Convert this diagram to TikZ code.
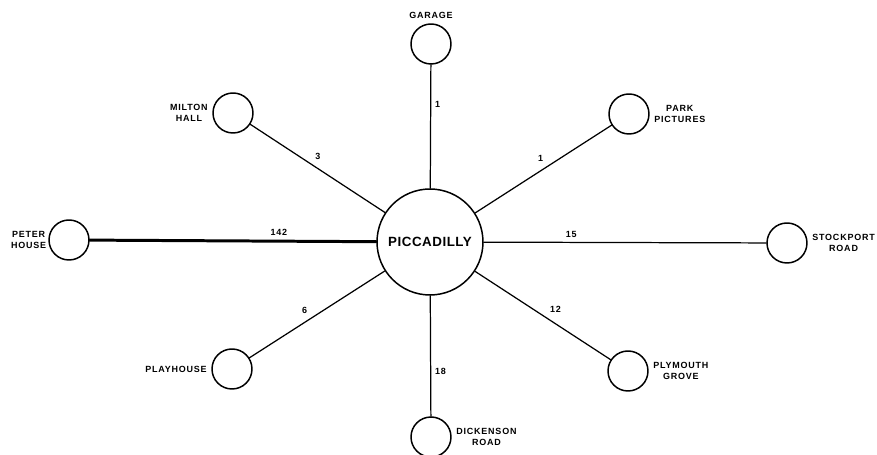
\documentclass[tikz,border=0pt]{standalone}
\usepackage{fontspec}
\usepackage{tikz}
\newfontfamily\mapfont[LetterSpace=4]{Liberation Sans}
\newfontfamily\stopfont[LetterSpace=9]{Liberation Sans}

\tikzset{
  hub/.style={circle,draw,line width=0.85pt,minimum size=2.12cm,inner sep=0pt,
    font=\mapfont\bfseries\fontsize{7.6}{9}\selectfont},
  stop/.style={circle,draw,line width=0.85pt,minimum size=0.8cm,inner sep=0pt},
  lbl/.style={align=center,inner sep=2.4pt,
    font=\stopfont\bfseries\fontsize{5.1}{6.2}\selectfont},
  num/.style={inner sep=2.2pt,font=\stopfont\bfseries\fontsize{5.1}{6.2}\selectfont},
  road/.style={line width=0.7pt},
}

\begin{document}
\begin{tikzpicture}[line cap=round,line join=round,x=0.02cm,y=-0.02cm]
			\useasboundingbox (0,0) rectangle (877,455);
			\node[hub] (picc) at (430,242) {PICCADILLY};
			\node[stop,label={[lbl]above:GARAGE}] (garage) at (431,44) {};
			\node[stop,label={[lbl]left:MILTON\\HALL}] (milton) at (233,113) {};
			\node[stop,label={[lbl]right:PARK\\PICTURES}] (park) at (629,114) {};
			\node[stop,label={[lbl,inner sep=1pt]left:PETER\\HOUSE}] (peter) at (69,240) {};
			\node[stop,label={[lbl]right:STOCKPORT\\ROAD}] (stockport) at (787,243) {};
			\node[stop,label={[lbl]left:PLAYHOUSE}] (playhouse) at (232,369) {};
			\node[stop,label={[lbl]right:DICKENSON\\ROAD}] (dickenson) at (431,437) {};
			\node[stop,label={[lbl]right:PLYMOUTH\\GROVE}] (plymouth) at (628,371) {};
			\draw [road] (picc) -- node[num,pos=0.68,right] {1} (garage);
			\draw [road] (picc) -- node[num,pos=0.55,above right] {3} (milton);
			\draw [road] (picc) -- node[num,pos=0.53,above left] {1} (park);
			\draw [line width=1.7pt] (picc) -- node[num,pos=0.34,above] {142} (peter);
			\draw [road] (picc) -- node[num,pos=0.31,above] {15} (stockport);
			\draw [road] (picc) -- node[num,pos=0.54,above left] {6} (playhouse);
			\draw [road] (picc) -- node[num,pos=0.63,right] {18} (dickenson);
			\draw [road] (picc) -- node[num,pos=0.52,above right] {12} (plymouth);
			\end{tikzpicture}
\end{document}
